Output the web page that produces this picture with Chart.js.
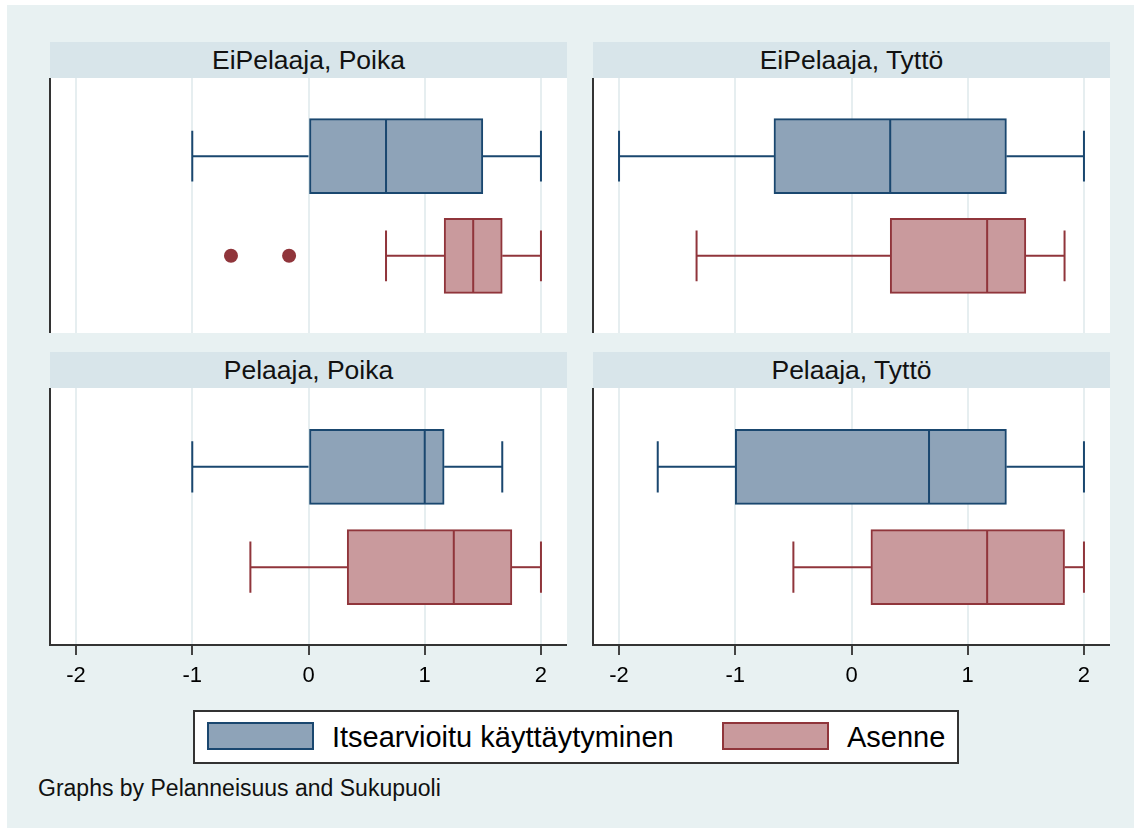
<!DOCTYPE html>
<html>
<head>
<meta charset="utf-8">
<script src="https://cdn.jsdelivr.net/npm/chart.js@4"></script>
<style>
  body { margin: 0; background: #fff; font-family: "Liberation Sans", Arial, sans-serif; }
  #page { position: absolute; left: 7px; top: 5px; width: 1127px; height: 823px; background: #e8f1f2; }
  .hdr { position: absolute; width: 517px; height: 36px; line-height: 36px; background: #d8e5ea;
         text-align: center; font-size: 26.5px; color: #111; }
  .plotbg { position: absolute; width: 517px; background: #fff; }
  canvas { position: absolute; }
  #legend { position: absolute; left: 193px; top: 710px; width: 766px; height: 54px; box-sizing: border-box;
            border: 2px solid #333; background: #fff; }
  .sw { position: absolute; top: 722px; width: 107px; height: 28px; box-sizing: border-box; border: 2px solid; }
  .lab { position: absolute; top: 720px; font-size: 29px; line-height: 34px; color: #000; white-space: nowrap; }
  #note { position: absolute; left: 38px; top: 775px; font-size: 23px; line-height: 26px; color: #111; }
</style>
</head>
<body>
<div id="page"></div>
<div id="legend"></div>
<div id="note">Graphs by Pelanneisuus and Sukupuoli</div>
<script>
const panelTitles = ['EiPelaaja, Poika', 'EiPelaaja, Tyttö', 'Pelaaja, Poika', 'Pelaaja, Tyttö'];
const seriesNames = ['Itsearvioitu käyttäytyminen', 'Asenne'];
const xTicks = [-2, -1, 0, 1, 2];

// Itsearvioitu käyttäytyminen, one value per panel
const itseMin = [-1, -2, -1, -1.667];
const itseQ1 = [0, -0.667, 0, -1];
const itseMedian = [0.667, 0.333, 1, 0.667];
const itseQ3 = [1.5, 1.333, 1.167, 1.333];
const itseMax = [2, 2, 1.667, 2];

// Asenne
const asenneMin = [0.667, -1.333, -0.5, -0.5];
const asenneQ1 = [1.167, 0.333, 0.333, 0.167];
const asenneMedian = [1.417, 1.167, 1.25, 1.167];
const asenneQ3 = [1.667, 1.5, 1.75, 1.833];
const asenneMax = [2, 1.833, 2, 2];
const asenneOutliers = [[-0.667, -0.167], [], [], []];

const FONT = '"Liberation Sans", Arial, sans-serif';
const colors = [
  { line: '#1a476f', fill: '#8ea3b8' },
  { line: '#90353b', fill: '#c99a9d' }
];
const X_MIN = -2.224, X_MAX = 2.224;
const Y_MIN = 0.215, Y_MAX = 2.775;
const CAP = 0.255, MED = 0.37;

// panel layout: plot area left/top
const panelPos = [
  { left: 50, top: 78, bottom: false },
  { left: 593, top: 78, bottom: false },
  { left: 50, top: 388, bottom: true },
  { left: 593, top: 388, bottom: true }
];

function seg(points, color) {
  return {
    type: 'line', data: points, borderColor: color, borderWidth: 2,
    pointRadius: 0, fill: false, tension: 0, order: 0
  };
}

function boxDatasets(y, mn, q1, med, q3, mx, outliers, c) {
  const out = [
    {
      type: 'bar', data: [{ x: [q1, q3], y: y }], backgroundColor: c.fill, borderColor: c.line,
      borderWidth: 2, borderSkipped: false, barThickness: 75, grouped: false, order: 1
    },
    seg([{ x: mn, y: y }, { x: q1, y: y }], c.line),
    seg([{ x: q3, y: y }, { x: mx, y: y }], c.line),
    seg([{ x: mn, y: y - CAP }, { x: mn, y: y + CAP }], c.line),
    seg([{ x: mx, y: y - CAP }, { x: mx, y: y + CAP }], c.line),
    seg([{ x: med, y: y - MED }, { x: med, y: y + MED }], c.line)
  ];
  if (outliers.length) {
    out.push({
      type: 'scatter', data: outliers.map(v => ({ x: v, y: y })), pointRadius: 7,
      backgroundColor: c.line, borderWidth: 0, order: 0
    });
  }
  return out;
}

panelPos.forEach((p, i) => {
  const hdr = document.createElement('div');
  hdr.className = 'hdr';
  hdr.style.left = p.left + 'px';
  hdr.style.top = (p.top - 36) + 'px';
  hdr.textContent = panelTitles[i];
  document.body.appendChild(hdr);

  const bg = document.createElement('div');
  bg.className = 'plotbg';
  bg.style.left = p.left + 'px';
  bg.style.top = p.top + 'px';
  bg.style.height = (p.bottom ? 257 : 255) + 'px';
  document.body.appendChild(bg);

  const cv = document.createElement('canvas');
  cv.width = 527;
  cv.height = p.bottom ? 302 : 255;
  cv.style.left = (p.left - 10) + 'px';
  cv.style.top = p.top + 'px';
  document.body.appendChild(cv);

  const datasets = [
    ...boxDatasets(1, itseMin[i], itseQ1[i], itseMedian[i], itseQ3[i], itseMax[i], [], colors[0]),
    ...boxDatasets(2, asenneMin[i], asenneQ1[i], asenneMedian[i], asenneQ3[i], asenneMax[i], asenneOutliers[i], colors[1])
  ];

  new Chart(cv, {
    type: 'bar',
    data: { datasets },
    options: {
      indexAxis: 'y',
      responsive: false,
      animation: false,
      events: [],
      layout: { autoPadding: false, padding: { left: 10, top: 0, right: 0, bottom: 0 } },
      plugins: { legend: { display: false }, tooltip: { enabled: false } },
      scales: {
        x: {
          type: 'linear', min: X_MIN, max: X_MAX, offset: false,
          afterBuildTicks: s => { s.ticks = xTicks.map(v => ({ value: v })); },
          afterFit: s => { s.height = p.bottom ? 45 : 0; },
          grid: { color: '#e6eef0', lineWidth: 2, offset: false, drawTicks: p.bottom, tickLength: 10, tickColor: '#444', tickWidth: 2 },
          border: { display: p.bottom, color: '#333', width: 2 },
          ticks: { display: p.bottom, color: '#000', font: { size: 22, family: FONT }, padding: 8, callback: v => String(v) }
        },
        y: {
          type: 'linear', reverse: true, min: Y_MIN, max: Y_MAX, offset: false, bounds: 'data',
          afterFit: s => { s.width = 0; },
          ticks: { display: false },
          grid: { display: false, drawTicks: false, offset: false },
          border: { display: true, color: '#333', width: 2 }
        }
      }
    }
  });
});

// legend
const legend = [
  { sw: 207, lab: 332 },
  { sw: 722, lab: 847 }
];
seriesNames.forEach((name, i) => {
  const sw = document.createElement('div');
  sw.className = 'sw';
  sw.style.left = legend[i].sw + 'px';
  sw.style.background = colors[i].fill;
  sw.style.borderColor = colors[i].line;
  document.body.appendChild(sw);
  const lab = document.createElement('div');
  lab.className = 'lab';
  lab.style.left = legend[i].lab + 'px';
  lab.textContent = name;
  document.body.appendChild(lab);
});
</script>
</body>
</html>
